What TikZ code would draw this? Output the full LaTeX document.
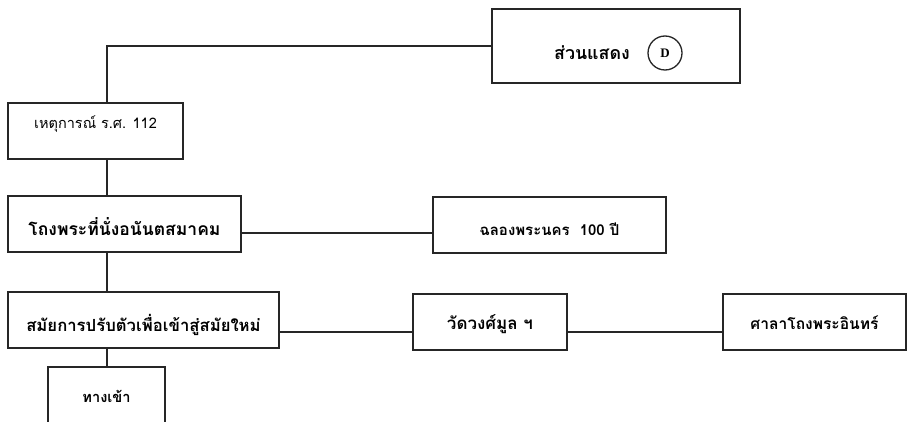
\documentclass[tikz,border=0pt]{standalone}
\usepackage{fontspec}
\newfontfamily\thaifont[Script=Thai]{Loma}
\newfontfamily\latinserif{Liberation Serif}
\usetikzlibrary{positioning}

\begin{document}
\begin{tikzpicture}[
    x=1pt, y=-1pt,
    font=\thaifont\bfseries\fontsize{17pt}{19pt}\selectfont,
    thaisize/.style={font=\thaifont\bfseries\fontsize{#1}{#1}\selectfont},
    link/.style={draw=black!85, line width=1.3pt},
    stagebox/.style={
        rectangle,
        draw=black!85,
        line width=1.3pt,
        fill=white,
        minimum height=56pt,
        inner sep=0pt
    },
    textshift/.style 2 args={text height=#1, text depth=#2},
    zonemark/.style={
        circle,
        draw=black!85,
        line width=1.3pt,
        minimum size=34pt,
        inner sep=0pt,
        font=\latinserif\bfseries\fontsize{13pt}{15pt}\selectfont
    }
]

% =========================================================
% Frame
% =========================================================
\fill[white] (0,0) rectangle (907,422);
\clip (0,0) rectangle (907,422);
\coordinate (spine) at (107,0);

% =========================================================
% Boxes
% =========================================================
\node[stagebox, minimum width=248pt, minimum height=74pt] (show) at (616,46) {};
\node[thaisize=17.8pt] (showtext) at (592,53) {ส่วนแสดง};
\node[zonemark] (dmark) at (665,53) {D};

\node[stagebox, minimum width=175pt, textshift={2pt}{6pt}, font=\thaifont\fontsize{14.5pt}{16pt}\selectfont] (event) at (95.5,131) {เหตุการณ์ ร.ศ. 112};
\node[stagebox, minimum width=233pt, thaisize=17.5pt, textshift={22pt}{0pt}] (hall) at (124.5,224) {โถงพระที่นั่งอนันตสมาคม};
\node[stagebox, minimum width=233pt, thaisize=15pt, textshift={20pt}{0pt}] (celeb) at (549.5,225) {ฉลองพระนคร~~100 ปี};
\node[stagebox, minimum width=271pt, thaisize=16.7pt, textshift={22pt}{0pt}] (modern) at (143.5,320) {สมัยการปรับตัวเพื่อเข้าสู่สมัยใหม่};
\node[stagebox, minimum width=154pt, textshift={15pt}{0pt}] (wat) at (490,322) {วัดวงศ์มูล ฯ};
\node[stagebox, minimum width=183pt, thaisize=15.6pt, textshift={14pt}{0pt}] (sala) at (814.5,322) {ศาลาโถงพระอินทร์};
\node[stagebox, minimum width=117pt, minimum height=80pt, thaisize=14.6pt, textshift={0pt}{9pt}] (entry) at (106.5,407) {ทางเข้า};

% =========================================================
% Connectors
% =========================================================
\draw[link] (show.west) -| (spine |- event.north);
\draw[link] (spine |- event.south) -- (spine |- hall.north);
\draw[link] ([yshift=-9pt]hall.east) -- ([yshift=-9pt]hall.east -| celeb.west);
\draw[link] (spine |- hall.south) -- (spine |- modern.north);
\draw[link] ([yshift=-12pt]modern.east) -- ([yshift=-12pt]modern.east -| wat.west);
\draw[link] ([yshift=-10pt]wat.east) -- ([yshift=-10pt]wat.east -| sala.west);
\draw[link] (spine |- modern.south) -- (spine |- entry.north);

\end{tikzpicture}
\end{document}
